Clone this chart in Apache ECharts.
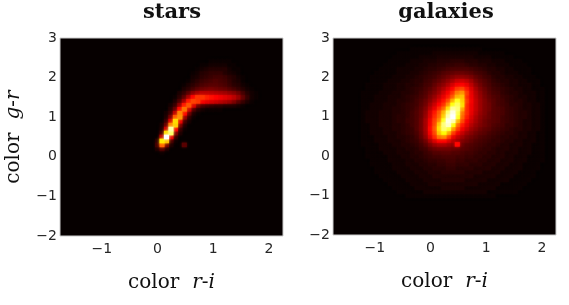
<!DOCTYPE html>
<html><head><meta charset="utf-8">
<style>html,body{margin:0;padding:0;background:#fff}#c{width:569px;height:305px}</style>
<script src="https://cdn.jsdelivr.net/npm/echarts@6/dist/echarts.min.js"></script>
</head><body><div id="c"></div>
<script>
const xTicks=[-1,0,1,2];
const yTicks=[-2,-1,0,1,2,3];
const cellX=0.08, cellY=0.1;
// rows run from top (starsTopY) downwards, columns from starsLeftX rightwards
const starsLeftX=-0.16, starsTopY=2.4;
const starsRows=[
[0,0,0,0,0,0,0,0,0,0,0,0,0,0,1,1,1,1,1,0,0,0,0,0,0,0],
[0,0,0,0,0,0,0,0,0,0,0,0,1,1,2,2,2,2,1,1,0,0,0,0,0,0],
[0,0,0,0,0,0,0,0,0,0,0,1,2,3,4,4,4,4,2,1,1,0,0,0,0,0],
[0,0,0,0,0,0,0,0,0,0,1,2,4,5,6,6,6,4,3,2,1,0,0,0,0,0],
[0,0,0,0,0,0,0,0,0,0,2,3,5,6,7,8,8,7,5,4,2,1,0,0,0,0],
[0,0,0,0,0,0,0,0,0,1,3,5,7,8,9,10,9,8,6,4,3,1,0,0,0,0],
[0,0,0,0,0,0,0,0,1,3,5,7,9,10,11,11,10,9,7,5,4,2,1,0,0,0],
[0,0,0,0,0,0,0,0,3,5,8,11,13,14,15,14,13,12,10,8,6,4,2,1,0,0],
[0,0,0,0,0,0,0,3,6,11,17,21,24,24,23,22,21,20,18,16,13,8,4,2,1,0],
[0,0,0,0,0,0,1,5,11,21,33,40,40,37,35,33,31,29,27,24,19,12,6,2,1,0],
[0,0,0,0,0,0,3,9,20,36,42,40,32,29,27,25,23,21,19,15,10,6,3,1,0,0],
[0,0,0,0,0,2,6,18,36,44,28,13,8,6,5,4,4,3,3,3,2,1,0,0,0,0],
[0,0,0,0,0,4,12,34,48,26,9,4,2,1,1,1,1,0,0,0,0,0,0,0,0,0],
[0,0,0,0,2,7,24,50,34,12,3,1,0,0,0,0,0,0,0,0,0,0,0,0,0,0],
[0,0,0,0,3,14,44,52,18,5,1,0,0,0,0,0,0,0,0,0,0,0,0,0,0,0],
[0,0,0,0,6,28,62,30,7,2,0,0,0,0,0,0,0,0,0,0,0,0,0,0,0,0],
[0,0,0,2,12,50,60,14,3,0,0,0,0,0,0,0,0,0,0,0,0,0,0,0,0,0],
[0,0,0,3,26,88,32,6,1,0,0,0,0,0,0,0,0,0,0,0,0,0,0,0,0,0],
[0,0,0,7,62,80,14,3,0,0,0,0,0,0,0,0,0,0,0,0,0,0,0,0,0,0],
[0,0,0,24,100,30,5,0,0,0,0,0,0,0,0,0,0,0,0,0,0,0,0,0,0,0],
[0,0,5,64,58,8,1,0,0,0,0,0,0,0,0,0,0,0,0,0,0,0,0,0,0,0],
[0,0,8,46,14,3,0,0,11,0,0,0,0,0,0,0,0,0,0,0,0,0,0,0,0,0],
[0,0,3,9,3,0,0,0,0,0,0,0,0,0,0,0,0,0,0,0,0,0,0,0,0,0],
[0,0,0,1,0,0,0,0,0,0,0,0,0,0,0,0,0,0,0,0,0,0,0,0,0,0]
];
const galaxiesLeftX=-1.2, galaxiesTopY=2.7;
const galaxiesRows=[
[0,0,0,0,0,0,0,0,0,0,0,1,1,1,1,1,1,1,1,1,1,1,1,1,1,1,1,0,0,0,0,0,0,0,0,0,0,0,0,0,0],
[0,0,0,0,0,0,0,0,1,1,1,1,1,1,1,1,2,2,2,2,2,2,2,2,2,2,1,1,1,1,1,1,0,0,0,0,0,0,0,0,0],
[0,0,0,0,0,0,0,1,1,1,1,1,1,2,2,2,2,3,3,3,3,3,3,3,3,2,2,2,2,1,1,1,1,1,0,0,0,0,0,0,0],
[0,0,0,0,0,0,1,1,1,1,1,2,2,2,3,3,3,4,4,4,5,5,5,4,4,4,3,3,3,2,2,2,1,1,1,1,0,0,0,0,0],
[0,0,0,0,0,1,1,1,1,1,2,2,2,3,3,4,4,5,5,6,6,7,7,6,5,5,4,4,3,3,2,2,2,1,1,1,1,0,0,0,0],
[0,0,0,0,1,1,1,1,2,2,2,2,3,3,4,5,5,6,7,8,9,9,9,9,8,7,6,5,4,4,3,3,2,2,1,1,1,1,0,0,0],
[0,0,0,1,1,1,1,1,2,2,2,3,3,4,5,6,7,8,10,11,12,13,13,12,11,9,8,7,5,4,4,3,2,2,2,1,1,1,0,0,0],
[0,0,1,1,1,1,1,2,2,2,3,3,4,5,6,7,8,10,12,14,16,18,18,17,15,12,10,8,7,5,4,4,3,3,2,2,1,1,1,0,0],
[0,0,1,1,1,1,2,2,2,3,3,4,5,5,7,8,10,12,15,18,21,25,26,24,20,15,12,10,8,6,5,4,4,3,3,2,2,1,1,1,0],
[0,1,1,1,1,2,2,2,3,3,4,4,5,6,8,9,12,15,18,22,27,32,33,30,24,18,14,11,9,7,6,5,4,3,3,2,2,2,1,1,0],
[0,1,1,1,1,2,2,2,3,3,4,5,6,7,9,11,14,18,22,27,33,40,42,36,28,21,16,13,10,8,7,6,5,4,3,3,2,2,1,1,1],
[1,1,1,1,2,2,2,3,3,4,4,5,6,8,10,13,16,20,26,32,39,49,52,40,30,23,18,14,11,9,8,6,5,4,4,3,2,2,2,1,1],
[1,1,1,2,2,2,3,3,3,4,5,6,7,9,11,15,19,24,30,36,44,56,58,38,31,24,19,15,12,10,9,7,6,5,4,3,3,2,2,1,1],
[1,1,1,2,2,2,3,3,4,4,5,6,8,10,13,17,22,28,35,42,55,70,60,40,32,25,20,16,13,11,9,8,6,5,4,4,3,2,2,1,1],
[1,1,2,2,2,3,3,3,4,5,6,7,8,11,14,20,26,33,39,50,68,78,62,38,31,25,20,16,14,11,9,8,7,5,5,4,3,3,2,2,1],
[1,1,2,2,2,3,3,4,4,5,6,7,9,12,16,23,30,38,46,62,86,82,54,38,31,25,20,16,14,11,10,9,7,6,5,4,3,3,2,2,1],
[1,2,2,2,3,3,3,4,4,5,6,8,10,13,18,27,36,44,56,80,96,76,48,38,30,24,19,16,13,11,10,9,7,6,5,4,4,3,2,2,1],
[1,2,2,2,3,3,3,4,5,5,6,8,10,13,19,28,38,46,60,88,100,70,46,36,28,22,18,15,13,11,10,8,7,6,5,4,4,3,2,2,1],
[1,2,2,2,3,3,3,4,5,5,7,8,10,14,21,31,41,50,70,96,88,56,42,32,26,21,17,14,12,11,10,8,7,6,5,4,3,3,2,2,1],
[1,1,2,2,3,3,3,4,4,5,6,8,10,14,21,32,42,58,82,92,66,46,36,29,23,19,16,14,12,10,9,8,6,6,5,4,3,3,2,2,1],
[1,1,2,2,2,3,3,4,4,5,6,7,10,14,21,34,44,62,80,72,52,40,31,25,20,17,14,12,11,9,8,7,6,5,4,4,3,3,2,2,1],
[1,1,2,2,2,3,3,3,4,5,6,7,9,13,20,32,42,58,66,54,40,31,25,20,17,14,12,11,9,8,7,6,5,5,4,3,3,2,2,1,1],
[1,1,1,2,2,2,3,3,4,4,5,6,8,12,18,28,38,48,50,40,30,24,20,16,14,12,10,9,8,7,6,5,5,4,4,3,3,2,2,1,1],
[1,1,1,2,2,2,3,3,3,4,5,6,7,10,14,21,28,33,33,28,23,19,16,14,12,10,9,8,7,6,6,5,4,4,3,3,2,2,2,1,1],
[1,1,1,1,2,2,2,3,3,4,4,5,6,8,11,15,19,21,21,19,17,34,13,11,10,9,8,7,6,6,5,4,4,3,3,3,2,2,1,1,1],
[0,1,1,1,2,2,2,2,3,3,4,4,5,7,8,11,13,14,14,14,13,12,11,10,9,8,7,6,6,5,4,4,4,3,3,2,2,2,1,1,1],
[0,1,1,1,1,2,2,2,3,3,3,4,5,5,7,8,10,10,11,11,10,10,9,8,8,7,6,6,5,5,4,4,3,3,3,2,2,2,1,1,1],
[0,1,1,1,1,1,2,2,2,3,3,4,4,5,6,7,8,8,9,9,9,8,8,7,7,6,6,5,5,4,4,4,3,3,2,2,2,1,1,1,1],
[0,0,1,1,1,1,2,2,2,2,3,3,4,4,5,6,6,7,7,8,8,7,7,6,6,6,5,5,4,4,4,3,3,3,2,2,2,1,1,1,1],
[0,0,1,1,1,1,1,2,2,2,3,3,3,4,4,5,5,6,6,7,7,6,6,6,5,5,5,4,4,4,3,3,3,2,2,2,1,1,1,1,0],
[0,0,0,1,1,1,1,2,2,2,2,3,3,3,4,4,5,5,5,6,6,5,5,5,5,4,4,4,4,3,3,3,2,2,2,2,1,1,1,1,0],
[0,0,0,1,1,1,1,1,2,2,2,2,3,3,3,4,4,4,5,5,5,5,5,4,4,4,4,3,3,3,3,2,2,2,2,1,1,1,1,0,0],
[0,0,0,0,1,1,1,1,1,2,2,2,2,3,3,3,4,4,4,4,4,4,4,4,4,3,3,3,3,3,2,2,2,2,1,1,1,1,1,0,0],
[0,0,0,0,0,1,1,1,1,1,2,2,2,2,3,3,3,3,4,4,4,4,4,3,3,3,3,3,2,2,2,2,2,1,1,1,1,1,0,0,0],
[0,0,0,0,0,0,1,1,1,1,1,2,2,2,2,3,3,3,3,3,3,3,3,3,3,3,2,2,2,2,2,1,1,1,1,1,1,0,0,0,0],
[0,0,0,0,0,0,0,1,1,1,1,1,2,2,2,2,2,2,3,3,3,3,3,2,2,2,2,2,2,2,1,1,1,1,1,1,0,0,0,0,0],
[0,0,0,0,0,0,0,0,1,1,1,1,1,1,2,2,2,2,2,2,2,2,2,2,2,2,2,2,1,1,1,1,1,1,1,0,0,0,0,0,0],
[0,0,0,0,0,0,0,0,0,0,1,1,1,1,1,1,1,1,1,1,1,1,1,1,1,1,1,1,1,1,0,0,0,0,0,0,0,0,0,0,0]
];
function triples(rows,left,top){
  const out=[];
  rows.forEach((r,i)=>r.forEach((v,j)=>{ if(v>0) out.push([left+j*cellX, top-i*cellY, v]); }));
  return out.sort((a,b)=>a[2]-b[2]);
}
function renderCell(params,api){
  const c=api.coord([api.value(0),api.value(1)]);
  const s=api.size([cellX,cellY]);
  const col=api.visual('color');
  return {type:'rect',
    shape:{x:c[0]-s[0]/2-0.3,y:c[1]-s[1]/2-0.3,width:s[0]+0.6,height:s[1]+0.6},
    style:{fill:col,shadowBlur:3,shadowColor:col}};
}
const serif='"DejaVu Serif",serif';
const nameRich={a:{fontFamily:serif,fontSize:20,color:'#111'},s:{fontSize:20,width:13},b:{fontFamily:serif,fontSize:20,fontStyle:'italic',color:'#111'}};
function xAxis(i){return {gridIndex:i,type:'value',min:-1.75,max:2.25,
  axisLine:{show:false},axisTick:{show:false},splitLine:{show:false},
  axisLabel:{customValues:xTicks,formatter:v=>String(v).replace('-','\u2212'),fontFamily:'"DejaVu Sans"',fontSize:14,color:'#262626',margin:6},
  name:'{a|color}{s| }{b|r}{a|-}{b|i}',nameLocation:'middle',nameGap:37,nameTextStyle:{rich:nameRich}};}
function yAxis(i,named){return {gridIndex:i,type:'value',min:-2,max:3,
  axisLine:{show:false},axisTick:{show:false},splitLine:{show:false},
  axisLabel:{customValues:yTicks,formatter:v=>String(v).replace('-','\u2212'),fontFamily:'"DejaVu Sans"',fontSize:14,color:'#262626',margin:3},
  name:named?'{a|color}{s| }{b|g}{a|-}{b|r}':'',nameLocation:'middle',nameGap:36,nameTextStyle:{rich:nameRich}};}
const titleStyle={fontFamily:serif,fontWeight:'bold',fontSize:21,color:'#111'};
const chart=echarts.init(document.getElementById('c'),null,{renderer:'canvas'});
chart.setOption({
  animation:false,backgroundColor:'#fff',
  title:[
    {text:'stars',left:167,top:-3,textAlign:'center',textStyle:titleStyle},
    {text:'galaxies',left:441,top:-3,textAlign:'center',textStyle:titleStyle}
  ],
  grid:[
    {left:60,top:38,width:223,height:198,show:true,backgroundColor:'#060000',borderColor:'#cccccc',borderWidth:1},
    {left:333,top:38,width:223,height:197,show:true,backgroundColor:'#060000',borderColor:'#cccccc',borderWidth:1}
  ],
  xAxis:[xAxis(0),xAxis(1)],
  yAxis:[yAxis(0,true),yAxis(1,false)],
  visualMap:{show:false,type:'continuous',seriesIndex:[0,1],dimension:2,min:0,max:100,
    inRange:{color:['#060000','#ff0000','#ffff00','#ffffff']}},
  series:[
    {type:'custom',xAxisIndex:0,yAxisIndex:0,clip:true,silent:true,renderItem:renderCell,data:triples(starsRows,starsLeftX,starsTopY)},
    {type:'custom',xAxisIndex:1,yAxisIndex:1,clip:true,silent:true,renderItem:renderCell,data:triples(galaxiesRows,galaxiesLeftX,galaxiesTopY)}
  ]
});
</script></body></html>
